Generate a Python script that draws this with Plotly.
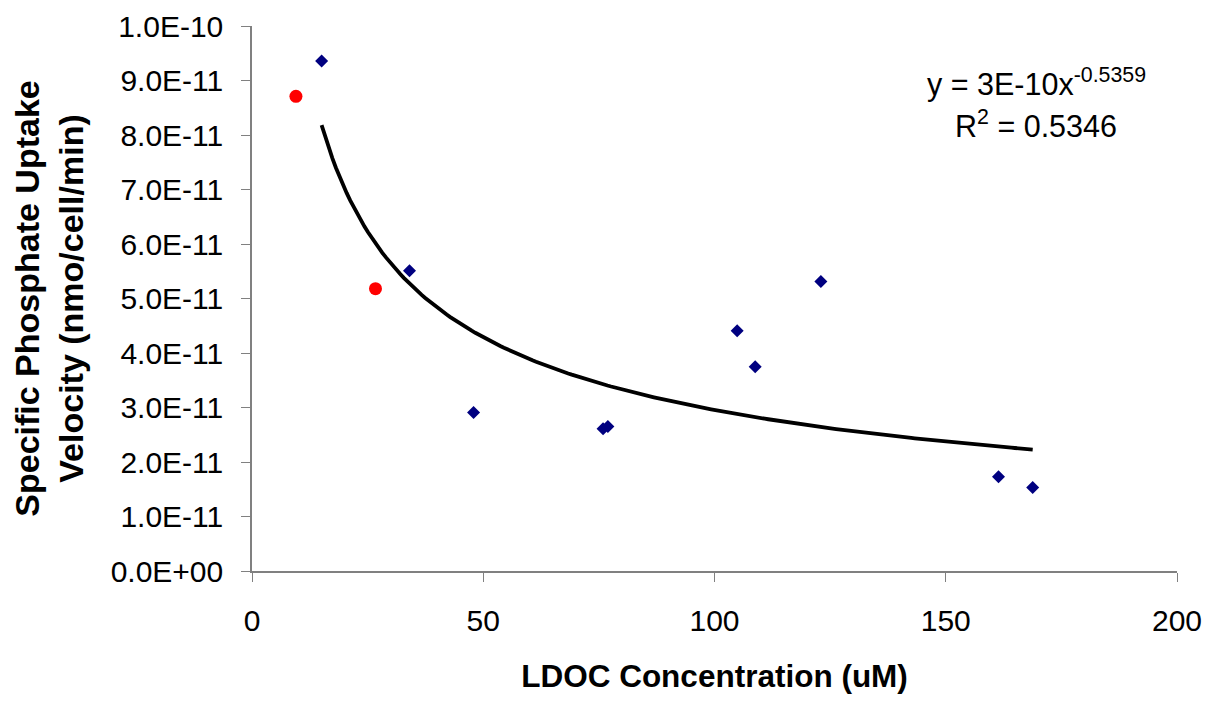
import numpy as np
import plotly.graph_objects as go

# Data
ldoc_blue = [15.05, 34.06, 47.9, 75.9, 76.95, 104.9, 108.8, 123.0, 161.4, 168.8]
uptake_blue = [9.36e-11, 5.51e-11, 2.91e-11, 2.61e-11, 2.65e-11, 4.41e-11, 3.75e-11, 5.31e-11, 1.73e-11, 1.53e-11]
ldoc_red = [9.5, 26.7]
uptake_red = [8.71e-11, 5.18e-11]

x_ticks = [0, 50, 100, 150, 200]
y_ticks = [i * 1e-11 for i in range(11)]
y_ticklabels = [f"{v:.1E}" for v in y_ticks]

eq_text = "y = 3E-10x<sup>-0.5359</sup>"
r2_text = "R<sup>2</sup> = 0.5346"

# Power trendline fitted to the blue series (least squares in log-log space)
b, ln_a = np.polyfit(np.log(ldoc_blue), np.log(uptake_blue), 1)
xf = np.linspace(min(ldoc_blue), max(ldoc_blue), 200)
yf = np.exp(ln_a) * xf ** b

FONT = "Liberation Sans, Arial, sans-serif"

fig = go.Figure()
fig.add_trace(go.Scatter(x=xf, y=yf, mode="lines",
                         line=dict(color="black", width=3.8),
                         hoverinfo="skip", showlegend=False))
fig.add_trace(go.Scatter(x=ldoc_blue, y=uptake_blue, mode="markers",
                         marker=dict(symbol="diamond", size=10, color="#000080"),
                         showlegend=False))
fig.add_trace(go.Scatter(x=ldoc_red, y=uptake_red, mode="markers",
                         marker=dict(symbol="circle", size=13, color="#FF0000"),
                         showlegend=False))

fig.add_annotation(x=(1036 - 252) / 925, y=(571 - 83) / 545, xref="paper", yref="paper",
                   text=eq_text, showarrow=False, xanchor="center", yanchor="middle",
                   font=dict(family=FONT, size=30.5, color="black"))
fig.add_annotation(x=(1036 - 252) / 925, y=(571 - 124) / 545, xref="paper", yref="paper",
                   text=r2_text, showarrow=False, xanchor="center", yanchor="middle",
                   font=dict(family=FONT, size=30.5, color="black"))

# page body has an 8px margin, so the figure is sized/offset to compensate
fig.update_layout(
    width=1202, height=693,
    margin=dict(l=244, r=33, t=18, b=130),
    paper_bgcolor="white", plot_bgcolor="white",
    font=dict(family=FONT, size=30, color="black"),
    xaxis=dict(range=[0, 200], tickvals=x_ticks, ticktext=[str(t) for t in x_ticks],
               showgrid=False, zeroline=False, showline=True, linecolor="#808080",
               linewidth=1.5, ticks="outside", ticklen=9, tickcolor="#808080",
               tickfont=dict(family=FONT, size=30), automargin=False,
               ticklabelstandoff=13,
               title=dict(text="<b>LDOC Concentration (uM)</b>",
                          font=dict(family=FONT, size=31.5), standoff=29)),
    yaxis=dict(range=[0, 1e-10], tickvals=y_ticks, ticktext=y_ticklabels,
               showgrid=False, zeroline=False, showline=True, linecolor="#808080",
               linewidth=1.5, ticks="outside", ticklen=9, tickcolor="#808080",
               tickfont=dict(family=FONT, size=30), automargin=False,
               ticklabelstandoff=12,
               title=dict(text="<b>Specific Phosphate Uptake<br>Velocity (nmo/cell/min)</b>",
                          font=dict(family=FONT, size=34), standoff=26)),
)

fig.write_html("out.html")
